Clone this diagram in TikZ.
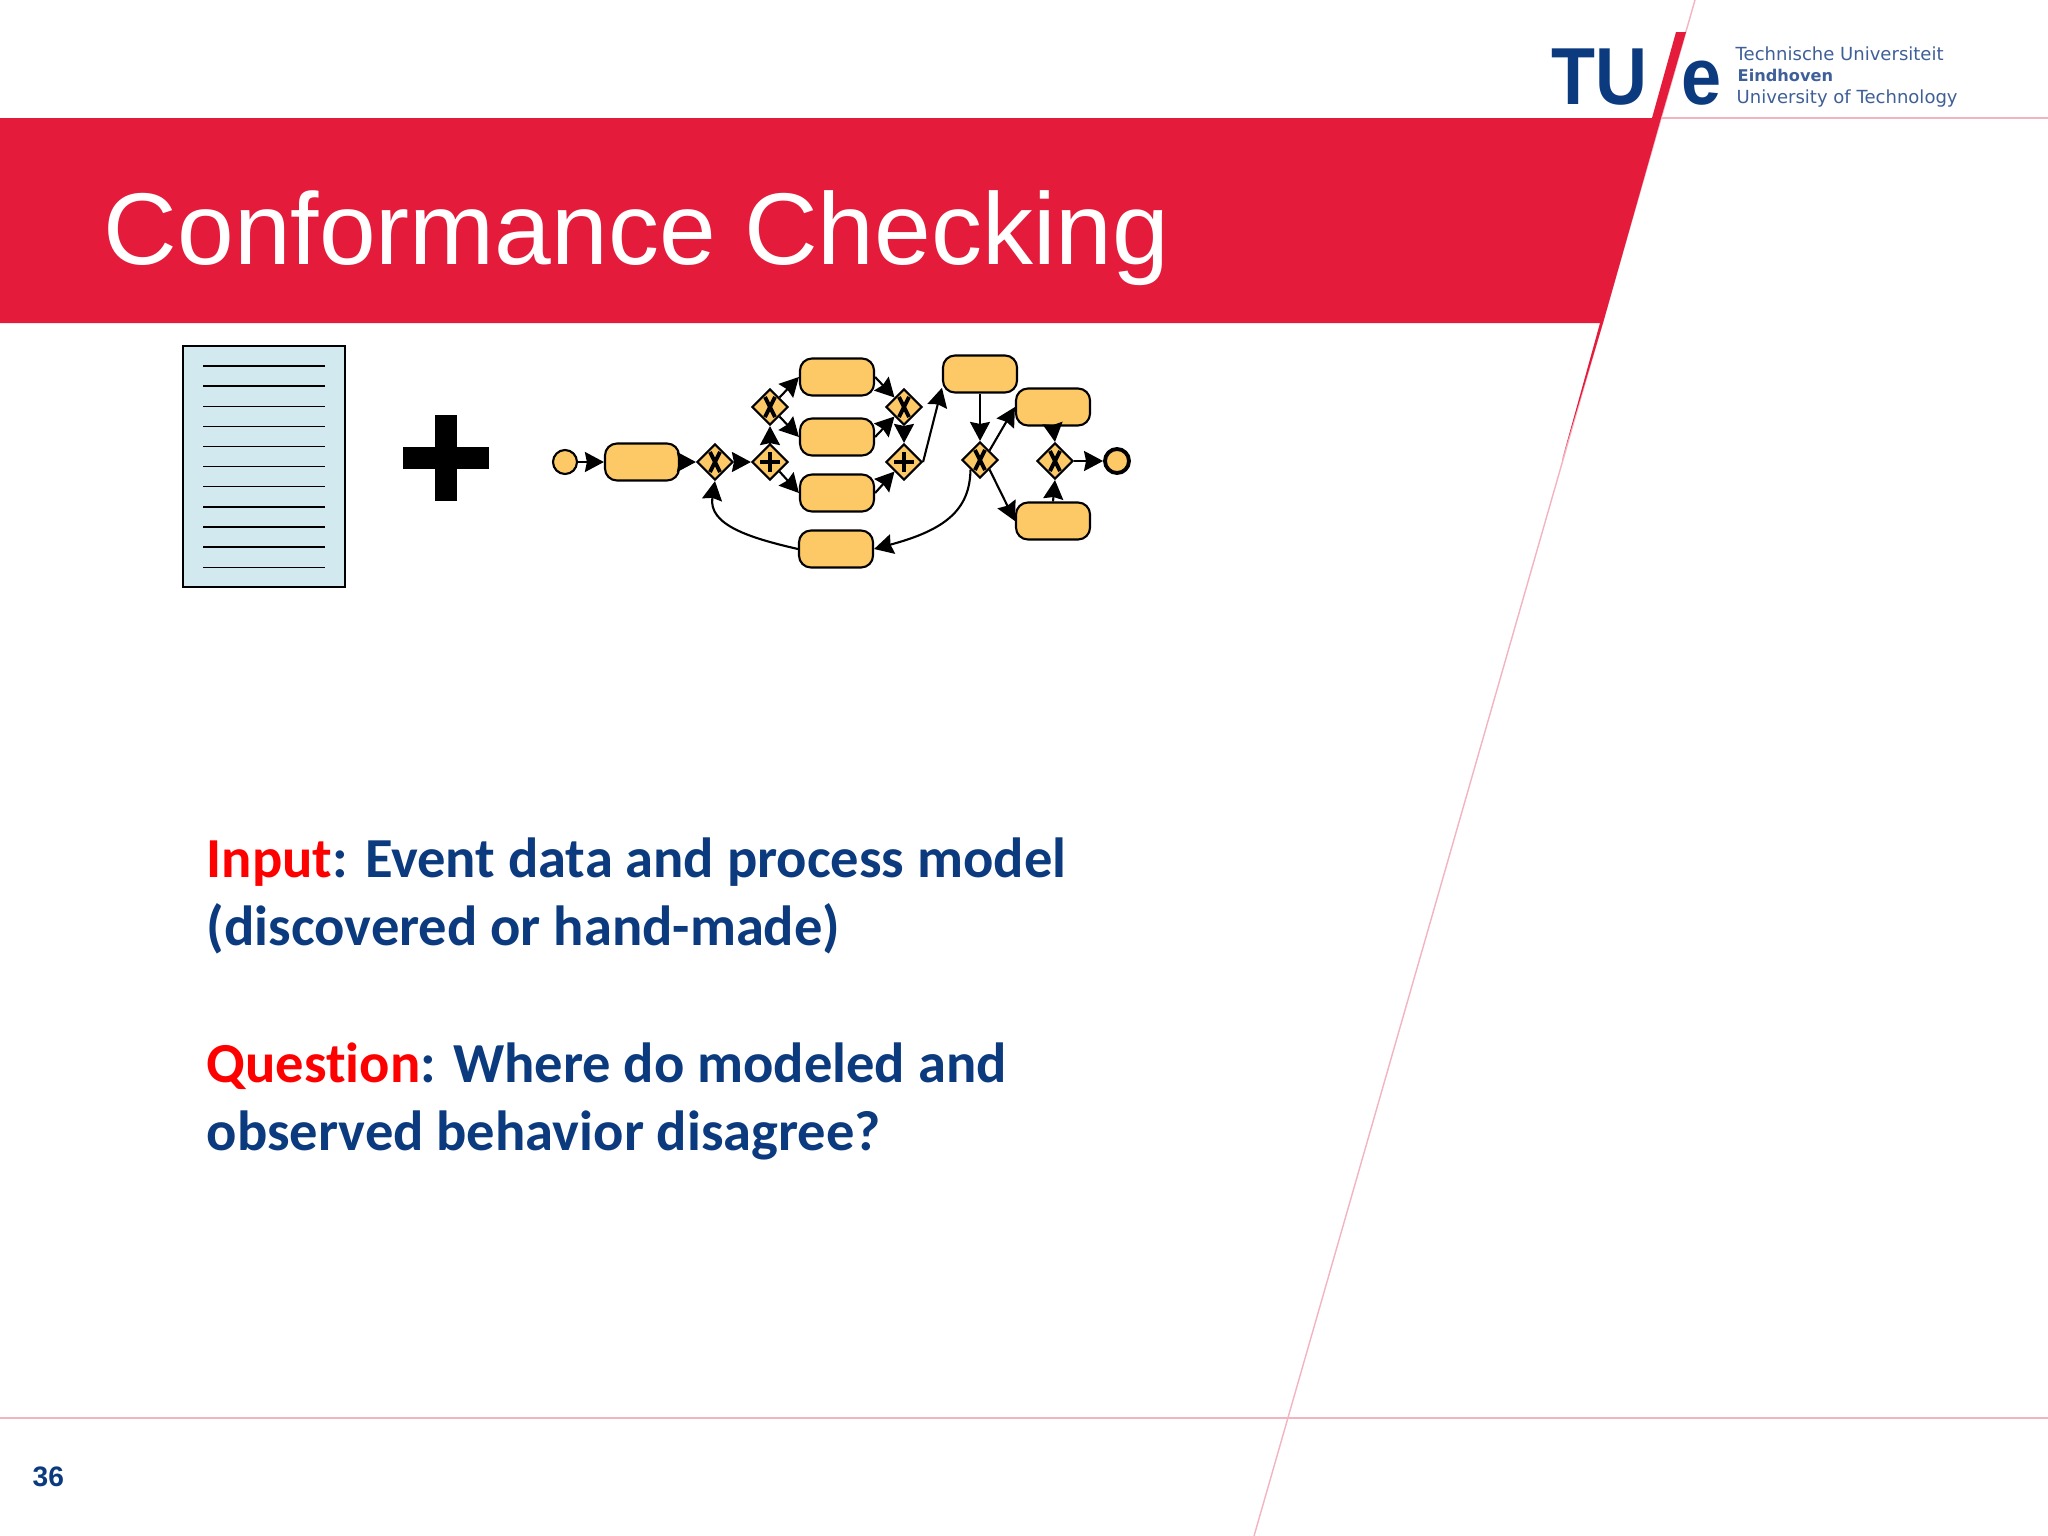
\documentclass[tikz,border=0pt]{standalone}
\usepackage{fontspec}
\setmainfont{Liberation Sans}
\newfontfamily\bodyfont[Ligatures=NoCommon]{Carlito}
\newfontfamily\logofont{DejaVu Sans}
\newfontfamily\letterfont[FakeStretch=0.89]{Liberation Sans}
\usetikzlibrary{%
   arrows.meta,%
   shapes.geometric}
\definecolor{tuered}{HTML}{E41B3B}
\definecolor{tuepink}{HTML}{F3B4C2}
\definecolor{tueblue}{HTML}{0B3A7E}
\definecolor{logoblue}{HTML}{3F5F98}
\definecolor{taskfill}{HTML}{FDC966}
\definecolor{logfill}{HTML}{D1E9EF}
\tikzset{>={Stealth[width=2mm,length=1.9mm,inset=0.2mm]}}
\tikzset{
  task/.style={
    rectangle,
    draw,
    line width=0.6pt,
    fill=taskfill,
    rounded corners=0.12cm,
    minimum width=0.74cm,
    minimum height=0.37cm,
    inner sep=0pt,
  },
  event/.style={
    circle,
    draw,
    line width=0.6pt,
    fill=taskfill,
    minimum size=0.24cm,
    inner sep=0pt,
  },
  end event/.style={
    event,
    line width=1.1pt,
  },
  gateway/.style={
    diamond,
    draw,
    line width=0.6pt,
    fill=taskfill,
    minimum width=0.36cm,
    minimum height=0.36cm,
    inner sep=0pt,
  },
  xor gateway/.style={
    gateway,
    path picture={
      \draw[line width=1.1pt] ([xshift=-0.05cm,yshift=0.1cm]path picture bounding box.center) -- ([xshift=0.05cm,yshift=-0.1cm]path picture bounding box.center);
      \draw[line width=1.1pt] ([xshift=0.05cm,yshift=0.1cm]path picture bounding box.center) -- ([xshift=-0.05cm,yshift=-0.1cm]path picture bounding box.center);
    },
  },
  and gateway/.style={
    gateway,
    path picture={
      \draw[line width=1.1pt] ([xshift=-0.1cm]path picture bounding box.center) -- ([xshift=0.1cm]path picture bounding box.center);
      \draw[line width=1.1pt] ([yshift=0.1cm]path picture bounding box.center) -- ([yshift=-0.1cm]path picture bounding box.center);
    },
  },
  flow/.style={
    ->,
    line width=0.6pt,
  },
  body text/.style={
    anchor=base west,
    inner sep=0pt,
    font=\bodyfont\bfseries\fontsize{16.08}{18}\selectfont,
    text=tueblue,
  },
  logo text/.style={
    anchor=base west,
    inner sep=0pt,
    text=logoblue,
    font=\logofont\fontsize{5.13}{6}\selectfont,
  },
  logo letter/.style={
    anchor=base west,
    inner sep=0pt,
    text=tueblue,
    font=\letterfont\bfseries\fontsize{23}{24}\selectfont,
  },
}

\begin{document}
\begin{tikzpicture}[x=0.01cm,y=-0.01cm]
    \useasboundingbox (0,0) rectangle (2048,1536);
    \fill[white] (0,0) rectangle (2048,1536);

    % slide frame
    \draw[tuepink,line width=0.4pt] (1695,0) -- (1254,1536);
    \draw[tuepink,line width=0.4pt] (1655,118) -- (2048,118);
    \draw[tuepink,line width=0.4pt] (0,1418) -- (2048,1418);
    \fill[tuered] (0,118) -- (1661,118) -- (1603,323) -- (0,323) -- cycle;
    \fill[tuered] (1676,32) -- (1686,32) -- (1661,118) -- (1652,118) -- cycle;
    \fill[tuered] (1603,323) -- (1600,323) -- (1562,460) -- cycle;

    % logo
    \node[logo letter] (logoT) at (1551,104) {TU};
    \node[logo letter] (logoE) at (1681,104) {e};
    \node[logo text] (logo1) at (1735,60) {Technische Universiteit};
    \node[logo text,font=\logofont\bfseries\fontsize{4.6}{6}\selectfont] (logo2) at (1737,81) {Eindhoven};
    \node[logo text] (logo3) at (1736,103) {University of Technology};

    \node[anchor=base west,inner sep=0pt,text=white,font=\fontsize{29}{34}\selectfont] (title) at (103,264) {Conformance Checking};

    % event log
    \draw[line width=0.8pt,fill=logfill] (183,346) rectangle (345,587);
    \foreach \y in {0,...,10}
        \draw[line width=0.4pt] (203,366+20.13*\y) -- (325,366+20.13*\y);

    % plus sign
    \fill[black] (403,447) rectangle (489,469);
    \fill[black] (435,415) rectangle (457,501);

    % process model
    \node[event] (start) at (565,462) {};
    \node[task] (t1) at (642,462) {};
    \node[xor gateway] (g1) at (715,462) {};
    \node[and gateway] (g2) at (770,462) {};
    \node[xor gateway] (g3) at (770,407) {};
    \node[task] (t2) at (837,377) {};
    \node[task] (t3) at (837,437) {};
    \node[task] (t4) at (837,493) {};
    \node[task] (t5) at (836,549) {};
    \node[xor gateway] (g4) at (904,407) {};
    \node[and gateway] (g5) at (904,462) {};
    \node[task] (t6) at (980,374) {};
    \node[xor gateway] (g6) at (980,460) {};
    \node[task] (t7) at (1053,407) {};
    \node[task] (t8) at (1053,521) {};
    \node[xor gateway] (g7) at (1055,461) {};
    \node[end event] (stop) at (1117,461) {};

    \path[flow] (start) edge (t1);
    \path[flow] (t1) edge (g1);
    \path[flow] (g1) edge (g2);
    \path[flow] (g2) edge (g3);
    \path[flow] (g3.north east) edge (t2.west);
    \path[flow] (g3.south east) edge (t3.west);
    \path[flow] (g2.south east) edge (t4.west);
    \path[flow] (t2.east) edge (g4.north west);
    \path[flow] (t3.east) edge (g4.south west);
    \path[flow] (t4.east) edge (g5.south west);
    \path[flow] (g4) edge (g5);
    \path[flow] (g5.east) edge (t6.200);
    \path[flow] (t6) edge (g6);
    \path[flow] (g6.north east) edge (t7.west);
    \path[flow] (g6.south east) edge (t8.west);
    \path[flow] (t7.south) edge (g7.north);
    \path[flow] (t8.north) edge (g7.south);
    \path[flow] (g7) edge (stop);
    \draw[flow] (g6.south west) .. controls (970,510) and (945,530) .. (t5.east);
    \draw[flow] (t5.west) .. controls (750,538) and (708,525) .. (g1.south);

    % text
    \node[body text] (input) at (206,877) {\textcolor{red}{Input}: Event data and process model};
    \node[body text] (input2) at (206,945) {(discovered or hand-made)};
    \node[body text] (question) at (206,1082) {\textcolor{red}{Question}: Where do modeled and};
    \node[body text] (question2) at (206,1150) {observed behavior disagree?};

    \node[anchor=base west,inner sep=0pt,text=tueblue,font=\bfseries\fontsize{8}{10}\selectfont] (page) at (32,1486) {36};
\end{tikzpicture}
\end{document}
